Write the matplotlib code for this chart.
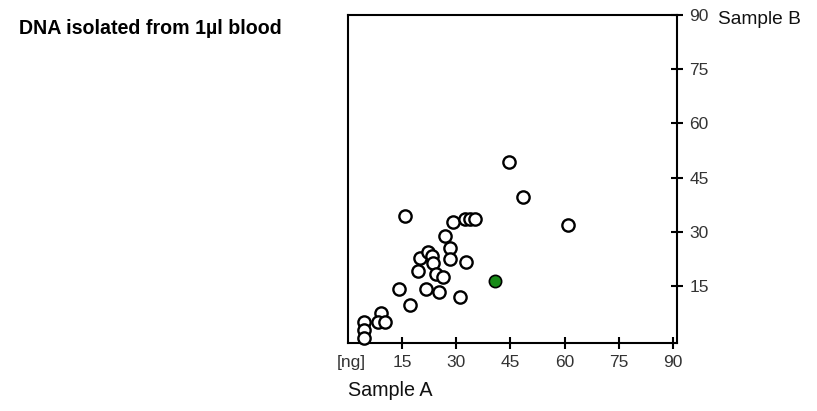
import matplotlib
matplotlib.use("Agg")
import matplotlib.pyplot as plt

plt.rcParams['font.family'] = ['Liberation Sans', 'DejaVu Sans']

# Sample A / Sample B DNA amounts [ng]
sample_a = [44.5, 48.5, 15.9, 29.1, 32.4, 33.7, 35.3, 60.9, 26.8, 28.3, 28.3,
            32.6, 20.1, 22.1, 23.4, 23.7, 19.5, 24.3, 26.4, 14.1, 21.7, 25.2,
            31.1, 17.3, 9.1, 8.3, 10.2, 4.6, 4.6, 4.6]
sample_b = [49.3, 39.6, 34.5, 32.6, 33.5, 33.5, 33.5, 32.0, 28.9, 25.4, 22.4,
            21.8, 22.7, 24.3, 23.3, 21.5, 19.2, 18.3, 17.4, 14.3, 14.3, 13.3,
            12.1, 9.9, 7.7, 5.2, 5.2, 5.0, 2.9, 0.8]
highlight_a = [40.7]
highlight_b = [16.3]

x_ticks = [1, 15, 30, 45, 60, 75, 90]
x_tick_labels = ['[ng]', '15', '30', '45', '60', '75', '90']
y_ticks = [15, 30, 45, 60, 75, 90]
y_tick_labels = ['15', '30', '45', '60', '75', '90']

fig = plt.figure(figsize=(8.17, 4.11), dpi=100)
ax = fig.add_axes([0.4256, 0.1647, 0.4027, 0.7995])

ax.scatter(sample_a, sample_b, s=78, facecolor='white', edgecolor='black',
           linewidth=1.7, zorder=3, clip_on=False)
ax.scatter(highlight_a, highlight_b, s=78, facecolor='#178a17', edgecolor='black',
           linewidth=1.2, zorder=4, clip_on=False)

ax.set_xlim(0, 91)
ax.set_ylim(-0.8, 90)

for sp in ax.spines.values():
    sp.set_linewidth(1.5)
    sp.set_color('black')

ax.set_xticks(x_ticks)
ax.set_xticklabels(x_tick_labels)
ax.set_yticks(y_ticks)
ax.set_yticklabels(y_tick_labels)
ax.yaxis.tick_right()
ax.tick_params(axis='both', direction='inout', length=8, width=1.5,
               labelsize=12.5, labelcolor='#333333', color='black')
ax.tick_params(axis='x', pad=4.5)
ax.tick_params(axis='y', pad=5)
# the "[ng]" unit label carries no tick mark
ax.xaxis.get_major_ticks()[0].tick1line.set_visible(False)

fig.text(348 / 817, 1 - 390 / 411, 'Sample A', ha='left', va='center',
         fontsize=14.2, color='#111111')
fig.text(718 / 817, 1 - 19 / 411, 'Sample B', ha='left', va='center',
         fontsize=13.8, color='#111111')
fig.text(19 / 817, 1 - 29 / 411, 'DNA isolated from 1µl blood', ha='left',
         va='center', fontsize=14.1, fontweight='bold', color='black')

fig.savefig('out.png', dpi=100)
